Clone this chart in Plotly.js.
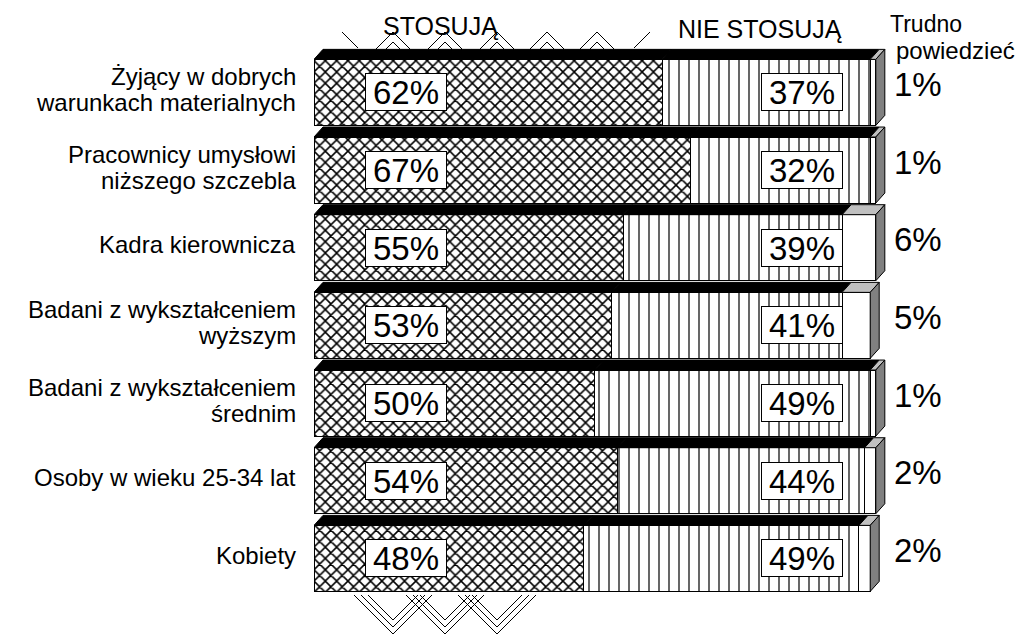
<!DOCTYPE html>
<html>
<head>
<meta charset="utf-8">
<script src="https://cdn.plot.ly/plotly-3.0.1.min.js"></script>
<style>html,body{margin:0;padding:0;background:#fff;}#chart{width:1029px;height:634px;}</style>
</head>
<body>
<div id="chart"></div>
<script>
const categories = ["Żyjący w dobrych<br>warunkach materialnych", "Pracownicy umysłowi<br>niższego szczebla", "Kadra kierownicza", "Badani z wykształceniem<br>wyższym", "Badani z wykształceniem<br>średnim", "Osoby w wieku 25-34 lat", "Kobiety"];
const stosuja = [62, 67, 55, 53, 50, 54, 48];
const nieStosuja = [37, 32, 39, 41, 49, 44, 49];
const trudno = [1, 1, 6, 5, 1, 2, 2];
const seriesNames = ["STOSUJĄ", "NIE STOSUJĄ", "Trudno<br>powiedzieć"];

const FONT = "Liberation Sans, Arial, sans-serif";
const W = 1029, H = 634;
const ML = 314, MR = 97, MT = 38, MB = 29;
const XR = [0, 110], YR = [6.6, -0.7];
const PW = W - ML - MR, PH = H - MT - MB;
const pxX = PW / (XR[1] - XR[0]);     // px per x unit
const pxY = PH / (YR[0] - YR[1]);     // px per y unit
const X = px => (px - ML) / pxX;       // pixel -> x data
const PXp = px => (px - ML) / PW;      // pixel -> paper x
const PYp = py => 1 - (py - MT) / PH;  // pixel -> paper y
const idx = categories.map((_, i) => i);
const yPix = i => MT + (i - YR[1]) * pxY;

const bargap = 0.15, half = (1 - bargap) / 2;
const dx = 9 / pxX, dy = 10 / pxY;

const traces = [
  {type: 'bar', orientation: 'h', name: seriesNames[0], x: stosuja, y: idx,
   marker: {color: 'white', line: {color: 'black', width: 1},
     pattern: {shape: 'x', size: 8, solidity: 0.35, fgcolor: 'black', bgcolor: 'white'}},
   hoverinfo: 'skip'},
  {type: 'bar', orientation: 'h', name: seriesNames[1], x: nieStosuja, y: idx,
   marker: {color: 'white', line: {color: 'black', width: 1},
     pattern: {shape: '|', size: 10, solidity: 0.12, fgcolor: 'black', bgcolor: 'white'}},
   hoverinfo: 'skip'},
  {type: 'bar', orientation: 'h', name: seriesNames[2], x: trudno, y: idx,
   marker: {color: 'white', line: {color: 'black', width: 1}},
   hoverinfo: 'skip'}
];

const shapes = [];
const series = [stosuja, nieStosuja, trudno];
const topColors = ['black', 'black', '#c0c0c0'];
idx.forEach(i => {
  let start = 0;
  const yt = i - half, yb = i + half;
  series.forEach((s, k) => {
    const end = start + s[i];
    shapes.push({type: 'path', xref: 'x', yref: 'y', layer: 'above',
      path: `M${start},${yt} L${end},${yt} L${end + dx},${yt - dy} L${start + dx},${yt - dy} Z`,
      fillcolor: topColors[k], line: {color: 'black', width: 1}});
    start = end;
  });
  shapes.push({type: 'path', xref: 'x', yref: 'y', layer: 'above',
    path: `M${start},${yt} L${start + dx},${yt - dy} L${start + dx},${yb - dy} L${start},${yb} Z`,
    fillcolor: '#808080', line: {color: 'black', width: 1}});
});

// decorative remnants of the pattern legend (above and below the bars)
function seg(x0, y0, x1, y1) {
  shapes.push({type: 'line', xref: 'paper', yref: 'paper', layer: 'below',
    x0: PXp(x0), y0: PYp(y0), x1: PXp(x1), y1: PYp(y1), line: {color: 'black', width: 1}});
}
[393, 445, 497, 547, 597].forEach(p => {
  seg(p - 17, 49, p, 32); seg(p, 32, p + 17, 49);
  seg(p - 7, 49, p, 42); seg(p, 42, p + 7, 49);
});
seg(342, 32, 358, 48); seg(650, 32, 634, 48);
const xmin = 341, xmax = 549, ytop = 595;
[393, 445, 497].forEach(c => {
  [634, 627, 620].forEach(b => {
    let h = b - ytop;
    let xl = c - h, yl = ytop;
    if (xl < xmin) { yl = b - (c - xmin); xl = xmin; }
    seg(c, b, xl, yl);
    let xr = c + h, yr = ytop;
    if (xr > xmax) { yr = b - (xmax - c); xr = xmax; }
    seg(c, b, xr, yr);
  });
});

const annotations = [];
const LBL = 24, LSP = 26;
idx.forEach(i => {
  const yc = yPix(i);
  const lines = categories[i].split('<br>');
  lines.forEach((ln, j) => {
    const yl = yc - 3 + (j - (lines.length - 1) / 2) * LSP;
    annotations.push({x: PXp(298), y: PYp(yl), xref: 'paper', yref: 'paper', text: ln, showarrow: false,
      xanchor: 'right', yanchor: 'middle', align: 'right',
      font: {family: FONT, size: LBL, color: 'black'}});
  });
  annotations.push({x: X(405.5), y: i, xref: 'x', yref: 'y', text: stosuja[i] + '%', showarrow: false,
    xanchor: 'center', yanchor: 'middle', width: 80, height: 36, bgcolor: 'white',
    bordercolor: 'black', borderwidth: 1, borderpad: 0,
    font: {family: FONT, size: 33, color: 'black'}});
  annotations.push({x: X(802), y: i, xref: 'x', yref: 'y', text: nieStosuja[i] + '%', showarrow: false,
    xanchor: 'center', yanchor: 'middle', width: 80, height: 36, bgcolor: 'white',
    bordercolor: 'black', borderwidth: 1, borderpad: 0,
    font: {family: FONT, size: 33, color: 'black'}});
  annotations.push({x: X(892), y: i, xref: 'x', yref: 'y', text: trudno[i] + '%', showarrow: false,
    xanchor: 'left', yanchor: 'middle', yshift: 8,
    font: {family: FONT, size: 33, color: 'black'}});
});
// series headers
annotations.push({x: PXp(440), y: PYp(26), xref: 'paper', yref: 'paper', text: seriesNames[0], showarrow: false,
  xanchor: 'center', yanchor: 'middle', font: {family: FONT, size: 25, color: 'black'}});
annotations.push({x: PXp(759.5), y: PYp(28.5), xref: 'paper', yref: 'paper', text: seriesNames[1], showarrow: false,
  xanchor: 'center', yanchor: 'middle', font: {family: FONT, size: 25, color: 'black'}});
const tl = seriesNames[2].split('<br>');
annotations.push({x: PXp(888), y: PYp(24), xref: 'paper', yref: 'paper', text: tl[0], showarrow: false,
  xanchor: 'left', yanchor: 'middle', font: {family: FONT, size: 23, color: 'black'}});
annotations.push({x: PXp(894), y: PYp(50), xref: 'paper', yref: 'paper', text: tl[1], showarrow: false,
  xanchor: 'left', yanchor: 'middle', font: {family: FONT, size: 24, color: 'black'}});

const layout = {
  width: W, height: H,
  margin: {l: ML, r: MR, t: MT, b: MB, pad: 0},
  paper_bgcolor: 'white', plot_bgcolor: 'rgba(0,0,0,0)',
  barmode: 'stack', bargap: bargap, showlegend: false,
  xaxis: {range: XR, visible: false, fixedrange: true},
  yaxis: {range: YR, visible: false, fixedrange: true},
  shapes: shapes, annotations: annotations,
  font: {family: FONT}
};
Plotly.newPlot('chart', traces, layout, {staticPlot: true, displayModeBar: false});
</script>
</body>
</html>
